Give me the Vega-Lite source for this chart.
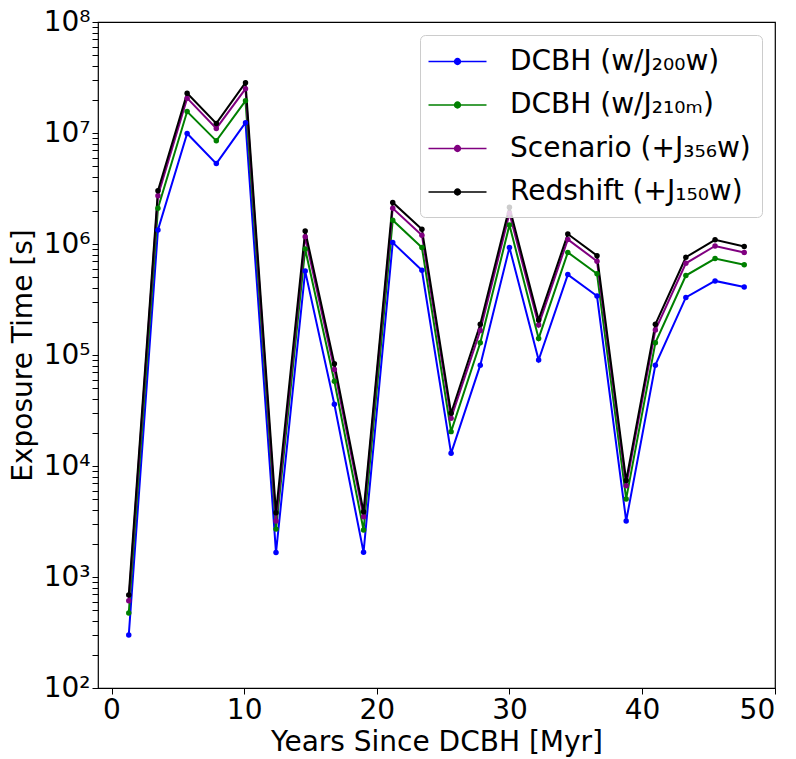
{
  "$schema": "https://vega.github.io/schema/vega-lite/v6.json",
  "width": 677,
  "height": 666,
  "autosize": {"type": "none"},
  "padding": {"left": 98, "top": 22, "right": 21, "bottom": 71},
  "background": "white",
  "config": {
    "font": "DejaVu Sans",
    "view": {"stroke": "black", "strokeWidth": 1.2},
    "axis": {
      "grid": false,
      "domain": false,
      "tickColor": "black",
      "tickWidth": 1,
      "tickSize": 6,
      "labelColor": "black",
      "labelFontSize": 28,
      "labelFont": "DejaVu Sans",
      "titleColor": "black",
      "titleFontSize": 28,
      "titleFont": "DejaVu Sans",
      "titleFontWeight": "normal"
    }
  },
  "data": {
    "values": [
      {"x": 1.3, "s": "DCBH (w/J₂₀₀w)", "t": 300},
      {"x": 3.5, "s": "DCBH (w/J₂₀₀w)", "t": 1340000},
      {"x": 5.7, "s": "DCBH (w/J₂₀₀w)", "t": 9900000},
      {"x": 7.9, "s": "DCBH (w/J₂₀₀w)", "t": 5300000},
      {"x": 10.1, "s": "DCBH (w/J₂₀₀w)", "t": 12400000},
      {"x": 12.4, "s": "DCBH (w/J₂₀₀w)", "t": 1660},
      {"x": 14.6, "s": "DCBH (w/J₂₀₀w)", "t": 570000},
      {"x": 16.8, "s": "DCBH (w/J₂₀₀w)", "t": 36000},
      {"x": 19.0, "s": "DCBH (w/J₂₀₀w)", "t": 1670},
      {"x": 21.2, "s": "DCBH (w/J₂₀₀w)", "t": 1030000},
      {"x": 23.4, "s": "DCBH (w/J₂₀₀w)", "t": 580000},
      {"x": 25.6, "s": "DCBH (w/J₂₀₀w)", "t": 13000},
      {"x": 27.8, "s": "DCBH (w/J₂₀₀w)", "t": 81000},
      {"x": 30.0, "s": "DCBH (w/J₂₀₀w)", "t": 930000},
      {"x": 32.2, "s": "DCBH (w/J₂₀₀w)", "t": 90000},
      {"x": 34.4, "s": "DCBH (w/J₂₀₀w)", "t": 530000},
      {"x": 36.6, "s": "DCBH (w/J₂₀₀w)", "t": 340000},
      {"x": 38.8, "s": "DCBH (w/J₂₀₀w)", "t": 3200},
      {"x": 41.0, "s": "DCBH (w/J₂₀₀w)", "t": 81000},
      {"x": 43.3, "s": "DCBH (w/J₂₀₀w)", "t": 330000},
      {"x": 45.5, "s": "DCBH (w/J₂₀₀w)", "t": 465000},
      {"x": 47.7, "s": "DCBH (w/J₂₀₀w)", "t": 410000},
      {"x": 1.3, "s": "DCBH (w/J₂₁₀ₘ)", "t": 474},
      {"x": 3.5, "s": "DCBH (w/J₂₁₀ₘ)", "t": 2100000},
      {"x": 5.7, "s": "DCBH (w/J₂₁₀ₘ)", "t": 15600000},
      {"x": 7.9, "s": "DCBH (w/J₂₁₀ₘ)", "t": 8500000},
      {"x": 10.1, "s": "DCBH (w/J₂₁₀ₘ)", "t": 19500000},
      {"x": 12.4, "s": "DCBH (w/J₂₁₀ₘ)", "t": 2700},
      {"x": 14.6, "s": "DCBH (w/J₂₁₀ₘ)", "t": 900000},
      {"x": 16.8, "s": "DCBH (w/J₂₁₀ₘ)", "t": 58000},
      {"x": 19.0, "s": "DCBH (w/J₂₁₀ₘ)", "t": 2650},
      {"x": 21.2, "s": "DCBH (w/J₂₁₀ₘ)", "t": 1640000},
      {"x": 23.4, "s": "DCBH (w/J₂₁₀ₘ)", "t": 930000},
      {"x": 25.6, "s": "DCBH (w/J₂₁₀ₘ)", "t": 20400},
      {"x": 27.8, "s": "DCBH (w/J₂₁₀ₘ)", "t": 129000},
      {"x": 30.0, "s": "DCBH (w/J₂₁₀ₘ)", "t": 1480000},
      {"x": 32.2, "s": "DCBH (w/J₂₁₀ₘ)", "t": 141000},
      {"x": 34.4, "s": "DCBH (w/J₂₁₀ₘ)", "t": 840000},
      {"x": 36.6, "s": "DCBH (w/J₂₁₀ₘ)", "t": 540000},
      {"x": 38.8, "s": "DCBH (w/J₂₁₀ₘ)", "t": 5050},
      {"x": 41.0, "s": "DCBH (w/J₂₁₀ₘ)", "t": 129000},
      {"x": 43.3, "s": "DCBH (w/J₂₁₀ₘ)", "t": 520000},
      {"x": 45.5, "s": "DCBH (w/J₂₁₀ₘ)", "t": 740000},
      {"x": 47.7, "s": "DCBH (w/J₂₁₀ₘ)", "t": 650000},
      {"x": 1.3, "s": "Scenario (+J₃₅₆w)", "t": 611},
      {"x": 3.5, "s": "Scenario (+J₃₅₆w)", "t": 2720000},
      {"x": 5.7, "s": "Scenario (+J₃₅₆w)", "t": 20600000},
      {"x": 7.9, "s": "Scenario (+J₃₅₆w)", "t": 11000000},
      {"x": 10.1, "s": "Scenario (+J₃₅₆w)", "t": 25000000},
      {"x": 12.4, "s": "Scenario (+J₃₅₆w)", "t": 3200},
      {"x": 14.6, "s": "Scenario (+J₃₅₆w)", "t": 1160000},
      {"x": 16.8, "s": "Scenario (+J₃₅₆w)", "t": 74000},
      {"x": 19.0, "s": "Scenario (+J₃₅₆w)", "t": 3490},
      {"x": 21.2, "s": "Scenario (+J₃₅₆w)", "t": 2100000},
      {"x": 23.4, "s": "Scenario (+J₃₅₆w)", "t": 1200000},
      {"x": 25.6, "s": "Scenario (+J₃₅₆w)", "t": 26900},
      {"x": 27.8, "s": "Scenario (+J₃₅₆w)", "t": 166000},
      {"x": 30.0, "s": "Scenario (+J₃₅₆w)", "t": 1890000},
      {"x": 32.2, "s": "Scenario (+J₃₅₆w)", "t": 186000},
      {"x": 34.4, "s": "Scenario (+J₃₅₆w)", "t": 1100000},
      {"x": 36.6, "s": "Scenario (+J₃₅₆w)", "t": 700000},
      {"x": 38.8, "s": "Scenario (+J₃₅₆w)", "t": 6650},
      {"x": 41.0, "s": "Scenario (+J₃₅₆w)", "t": 168000},
      {"x": 43.3, "s": "Scenario (+J₃₅₆w)", "t": 670000},
      {"x": 45.5, "s": "Scenario (+J₃₅₆w)", "t": 960000},
      {"x": 47.7, "s": "Scenario (+J₃₅₆w)", "t": 840000},
      {"x": 1.3, "s": "Redshift (+J₁₅₀w)", "t": 689},
      {"x": 3.5, "s": "Redshift (+J₁₅₀w)", "t": 3020000},
      {"x": 5.7, "s": "Redshift (+J₁₅₀w)", "t": 22800000},
      {"x": 7.9, "s": "Redshift (+J₁₅₀w)", "t": 12200000},
      {"x": 10.1, "s": "Redshift (+J₁₅₀w)", "t": 28400000},
      {"x": 12.4, "s": "Redshift (+J₁₅₀w)", "t": 3800},
      {"x": 14.6, "s": "Redshift (+J₁₅₀w)", "t": 1310000},
      {"x": 16.8, "s": "Redshift (+J₁₅₀w)", "t": 83600},
      {"x": 19.0, "s": "Redshift (+J₁₅₀w)", "t": 3870},
      {"x": 21.2, "s": "Redshift (+J₁₅₀w)", "t": 2370000},
      {"x": 23.4, "s": "Redshift (+J₁₅₀w)", "t": 1360000},
      {"x": 25.6, "s": "Redshift (+J₁₅₀w)", "t": 29900},
      {"x": 27.8, "s": "Redshift (+J₁₅₀w)", "t": 189000},
      {"x": 30.0, "s": "Redshift (+J₁₅₀w)", "t": 2140000},
      {"x": 32.2, "s": "Redshift (+J₁₅₀w)", "t": 207000},
      {"x": 34.4, "s": "Redshift (+J₁₅₀w)", "t": 1230000},
      {"x": 36.6, "s": "Redshift (+J₁₅₀w)", "t": 785000},
      {"x": 38.8, "s": "Redshift (+J₁₅₀w)", "t": 7400},
      {"x": 41.0, "s": "Redshift (+J₁₅₀w)", "t": 189000},
      {"x": 43.3, "s": "Redshift (+J₁₅₀w)", "t": 760000},
      {"x": 45.5, "s": "Redshift (+J₁₅₀w)", "t": 1090000},
      {"x": 47.7, "s": "Redshift (+J₁₅₀w)", "t": 950000}
    ]
  },
  "mark": {"type": "line", "strokeWidth": 2, "clip": true, "point": {"filled": true, "size": 30}},
  "encoding": {
    "x": {
      "field": "x",
      "type": "quantitative",
      "scale": {"domain": [-1.02, 50.02], "nice": false, "zero": false},
      "axis": {"values": [0, 10, 20, 30, 40, 50], "title": "Years Since DCBH [Myr]", "labelPadding": 2, "titlePadding": 4}
    },
    "y": {
      "field": "t",
      "type": "quantitative",
      "scale": {"type": "log", "domain": [100, 100000000], "nice": false},
      "axis": {
        "title": "Exposure Time [s]",
        "titlePadding": 6,
        "labelPadding": 2,
        "values": [100, 200, 300, 400, 500, 600, 700, 800, 900, 1000, 2000, 3000, 4000, 5000, 6000, 7000, 8000, 9000, 10000, 20000, 30000, 40000, 50000, 60000, 70000, 80000, 90000, 100000, 200000, 300000, 400000, 500000, 600000, 700000, 800000, 900000, 1000000, 2000000, 3000000, 4000000, 5000000, 6000000, 7000000, 8000000, 9000000, 10000000, 20000000, 30000000, 40000000, 50000000, 60000000, 70000000, 80000000, 90000000, 100000000],
        "labelExpr": "abs(log(datum.value)/LN10 - round(log(datum.value)/LN10)) < 0.000001 ? '10' + ['⁰','¹','²','³','⁴','⁵','⁶','⁷','⁸'][round(log(datum.value)/LN10)] : ''",
        "encode": {"ticks": {"update": {"x2": {"signal": "abs(log(datum.value)/LN10 - round(log(datum.value)/LN10)) < 0.000001 ? -6 : -3.5"}}}}
      }
    },
    "color": {
      "field": "s",
      "type": "nominal",
      "scale": {
        "domain": ["DCBH (w/J₂₀₀w)", "DCBH (w/J₂₁₀ₘ)", "Scenario (+J₃₅₆w)", "Redshift (+J₁₅₀w)"],
        "range": ["#0000ff", "#008000", "#800080", "#000000"]
      },
      "legend": {
        "title": null,
        "orient": "top-right",
        "offset": 13,
        "symbolType": "M-2,0L2,0M-0.2,0A0.2,0.2,0,1,0,0.2,0A0.2,0.2,0,1,0,-0.2,0Z",
        "symbolSize": 841,
        "symbolStrokeWidth": 1.5,
        "symbolOffset": 11,
        "labelFontSize": 28,
        "labelFont": "DejaVu Sans",
        "labelColor": "black",
        "labelLimit": 400,
        "labelOffset": 37,
        "rowPadding": 13.5,
        "padding": 11,
        "strokeColor": "#cccccc",
        "fillColor": "rgba(255,255,255,0.8)",
        "cornerRadius": 5,
        "encode": {"symbols": {"update": {"fill": {"scale": "color", "field": "value"}, "stroke": {"scale": "color", "field": "value"}}}}
      }
    }
  }
}
